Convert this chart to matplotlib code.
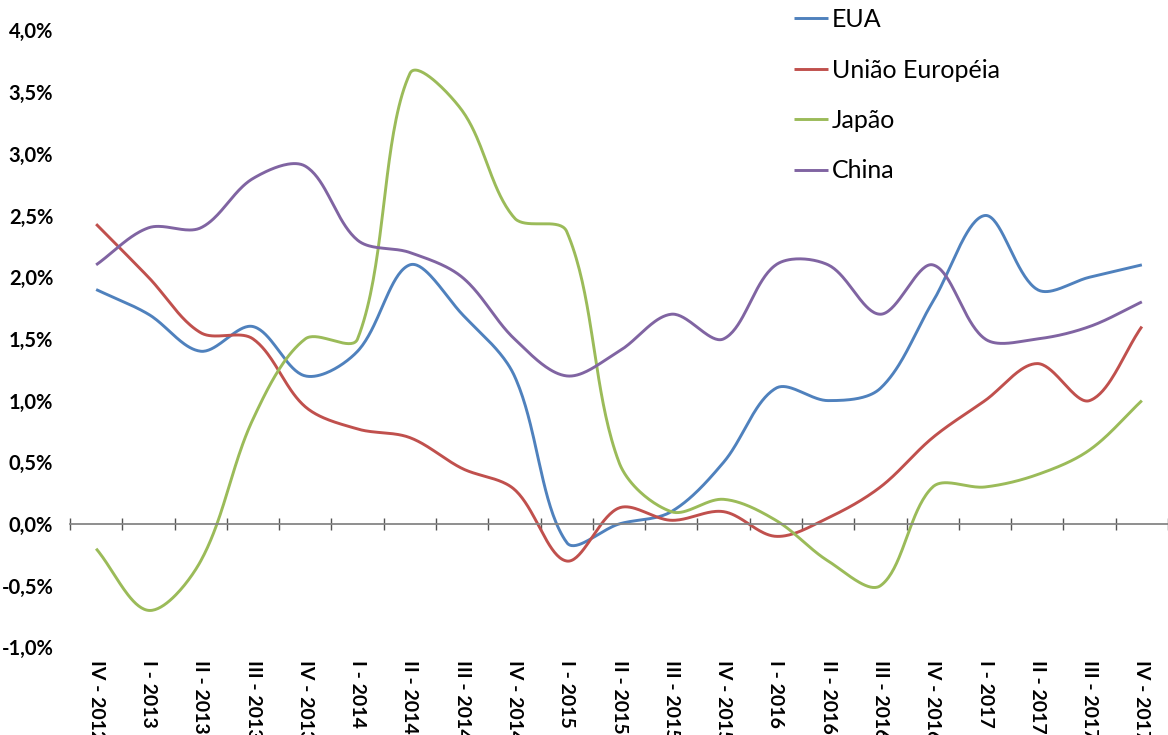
import numpy as np
import matplotlib
matplotlib.use("Agg")
import matplotlib.pyplot as plt

plt.rcParams['font.family'] = ['Lato', 'DejaVu Sans']

# Dados (variação %, trimestral)
trimestres = ["IV - 2012", "I - 2013", "II - 2013", "III - 2013", "IV - 2013",
              "I - 2014", "II - 2014", "III - 2014", "IV - 2014", "I - 2015",
              "II - 2015", "III - 2015", "IV - 2015", "I - 2016", "II - 2016",
              "III - 2016", "IV - 2016", "I - 2017", "II - 2017", "III - 2017",
              "IV - 2017"]
eua = [1.9, 1.7, 1.4, 1.6, 1.2, 1.4, 2.1, 1.7, 1.2, -0.15, 0.0,
       0.1, 0.5, 1.1, 1.0, 1.1, 1.8, 2.5, 1.9, 2.0, 2.1]
uniao_europeia = [2.43, 2.0, 1.55, 1.5, 0.95, 0.77, 0.7, 0.45, 0.28, -0.3, 0.13,
                  0.03, 0.1, -0.1, 0.05, 0.3, 0.7, 1.0, 1.3, 1.0, 1.6]
japao = [-0.2, -0.7, -0.3, 0.85, 1.5, 1.5, 3.65, 3.35, 2.48, 2.37, 0.5,
         0.1, 0.2, 0.03, -0.3, -0.5, 0.3, 0.3, 0.4, 0.6, 1.0]
china = [2.1, 2.4, 2.4, 2.8, 2.9, 2.3, 2.2, 2.0, 1.5, 1.2, 1.4,
         1.7, 1.5, 2.1, 2.1, 1.7, 2.1, 1.5, 1.5, 1.6, 1.8]

series = [("EUA", eua, "#4F81BD"),
          ("União Européia", uniao_europeia, "#C0504D"),
          ("Japão", japao, "#9BBB59"),
          ("China", china, "#8064A2")]

# escala aproximada em pixels (para suavizar como o Excel)
PX_X = 52.65
PX_Y = 123.4


def suavizar(x, y, n=40):
    # curva suavizada (Bezier, pontos de controle proporcionais ao comprimento dos segmentos)
    P = np.column_stack([np.asarray(x, float) * PX_X, np.asarray(y, float) * PX_Y])
    m = len(P)
    t = np.linspace(0, 1, n)[:, None]
    out = []
    for i in range(m - 1):
        p0, p3 = P[i], P[i + 1]
        prev = P[i - 1] if i > 0 else P[i]
        nxt = P[i + 2] if i + 2 < m else P[i + 1]
        d0 = np.linalg.norm(p0 - prev)
        d1 = np.linalg.norm(p3 - p0)
        d2 = np.linalg.norm(nxt - p3)
        if i > 0:
            p1 = p0 + (p3 - prev) * d1 / (d0 + d1) / 3
        else:
            p1 = p0 + (p3 - p0) / 3
        if i + 2 < m:
            p2 = p3 - (nxt - p0) * d1 / (d1 + d2) / 3
        else:
            p2 = p3 - (p3 - p0) / 3
        b = (1 - t) ** 3 * p0 + 3 * (1 - t) ** 2 * t * p1 + 3 * (1 - t) * t ** 2 * p2 + t ** 3 * p3
        out.append(b)
    b = np.vstack(out)
    return b[:, 0] / PX_X, b[:, 1] / PX_Y


fig = plt.figure(figsize=(11.68, 7.35), dpi=100)
ax = fig.add_axes([70 / 1168, (735 - 647.4) / 735, 1 - 70 / 1168, 617 / 735])

x = np.arange(len(trimestres))
for nome, valores, cor in series:
    sx, sy = suavizar(x, valores)
    ax.plot(sx, sy, color=cor, linewidth=2.1, label=nome, solid_capstyle='butt')

ax.set_xlim(-0.5, -0.5 + 1098 / PX_X)
ax.set_ylim(-1, 4)

# eixo horizontal no zero
for s in ['top', 'right', 'left']:
    ax.spines[s].set_visible(False)
ax.spines['bottom'].set_position(('data', 0))
ax.spines['bottom'].set_color('#868686')
ax.spines['bottom'].set_linewidth(1.3)
ax.set_xticks(np.arange(-0.5, 21, 1))
ax.set_xticklabels([])
ax.tick_params(axis='x', direction='inout', length=9, width=1, color='#555555')

yt = np.arange(-1, 4.01, 0.5)
ax.set_yticks(yt)
ax.set_yticklabels([f"{v:.1f}%".replace(".", ",") for v in yt],
                   fontsize=14.5, fontweight='bold')
ax.tick_params(axis='y', length=0, pad=12)

for i, lab in enumerate(trimestres):
    ax.text(i, -0.021, lab, transform=ax.get_xaxis_transform(), rotation=270,
            ha='center', va='top', fontsize=14, fontweight='bold')

ax.legend(loc='upper left', bbox_to_anchor=(794 / 1168, 1 - 8 / 735),
          bbox_transform=fig.transFigure, frameon=False, fontsize=18,
          handlelength=1.35, handletextpad=0.15, labelspacing=1.1,
          borderpad=0, borderaxespad=0)

fig.savefig("out.png", dpi=100)
